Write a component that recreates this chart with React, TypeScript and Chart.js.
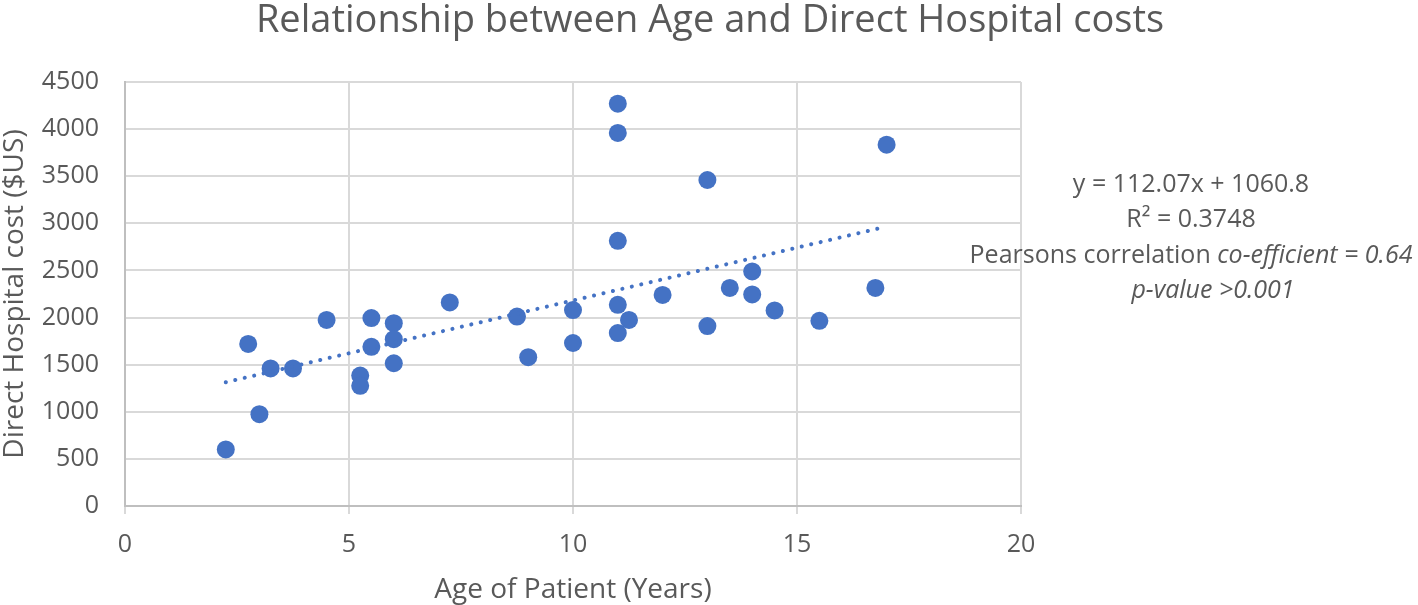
import React, { useEffect, useRef } from "react";
import { Chart, registerables } from "chart.js";

Chart.register(...registerables);

const TITLE = "Relationship between Age and Direct Hospital costs";
const X_TITLE = "Age of Patient (Years)";
const Y_TITLE = "Direct Hospital cost ($US)";

const ages = [
  2.25, 2.75, 3.0, 3.25, 3.75, 4.5, 5.5, 5.5, 5.25, 5.25, 6.0, 6.0, 6.0, 7.25, 8.75, 9.0, 10.0, 10.0,
  11.0, 11.0, 11.0, 11.0, 11.0, 11.25, 12.0, 13.0, 13.0, 13.5, 14.0, 14.0, 14.5, 15.5, 16.75, 17.0,
];
const costs = [
  600, 1720, 975, 1460, 1460, 1975, 1995, 1690, 1385, 1275, 1940, 1770, 1515, 2160, 2010, 1580, 2080, 1730,
  4270, 3960, 2815, 2135, 1835, 1975, 2240, 3460, 1910, 2315, 2490, 2245, 2075, 1965, 2315, 3835,
];

const trendX = [2.25, 17.0];
const trendY = [1313, 2966];

const annotationLines = ["y = 112.07x + 1060.8", "R² = 0.3748"];
const pearsonNormal = "Pearsons correlation ";
const pearsonItalic = "co-efficient = 0.64";
const pValueText = "p-value >0.001";

const FONT = "'Open Sans', sans-serif";
const TEXT = "#595959";

const textPlugin = {
  id: "extraText",
  afterDraw(chart: any) {
    const ctx = chart.ctx;
    ctx.save();
    ctx.fillStyle = TEXT;
    ctx.textBaseline = "middle";
    ctx.textAlign = "center";
    ctx.font = `38px ${FONT}`;
    ctx.fillText(TITLE, 710, 21);

    ctx.textAlign = "left";
    const size = 25;
    const normal = `${size}px ${FONT}`;
    const italic = `italic ${size}px ${FONT}`;
    const cx = 1191;
    const ys = [185, 220, 256, 291];
    ctx.font = normal;
    annotationLines.forEach((t, i) => {
      const w = ctx.measureText(t).width;
      ctx.fillText(t, cx - w / 2, ys[i]);
    });
    const w1 = ctx.measureText(pearsonNormal).width;
    ctx.font = italic;
    const w2 = ctx.measureText(pearsonItalic).width;
    const start = cx - (w1 + w2) / 2;
    ctx.font = normal;
    ctx.fillText(pearsonNormal, start, ys[2]);
    ctx.font = italic;
    ctx.fillText(pearsonItalic, start + w1, ys[2]);
    const w3 = ctx.measureText(pValueText).width;
    ctx.fillText(pValueText, 1213 - w3 / 2, ys[3]);
    ctx.restore();
  },
};

export default function App() {
  const ref = useRef<HTMLCanvasElement | null>(null);
  useEffect(() => {
    if (!ref.current) return;
    const chart = new Chart(ref.current, {
      type: "scatter",
      data: {
        datasets: [
          {
            type: "line",
            label: "Trend",
            data: trendX.map((x, i) => ({ x, y: trendY[i] })),
            borderColor: "#4472C4",
            borderWidth: 4,
            borderDash: [0.1, 9.6],
            borderCapStyle: "round",
            pointRadius: 0,
            fill: false,
            tension: 0,
          },
          {
            label: "Cost",
            data: ages.map((x, i) => ({ x, y: costs[i] })),
            backgroundColor: "#4472C4",
            borderColor: "#4472C4",
            borderWidth: 0,
            pointRadius: 9,
          },
        ],
      } as any,
      options: {
        animation: false,
        responsive: false,
        maintainAspectRatio: false,
        layout: { padding: { left: 0, right: 397, top: 82, bottom: 0 } },
        plugins: {
          legend: { display: false },
          tooltip: { enabled: false },
          title: { display: false },
        },
        scales: {
          x: {
            type: "linear",
            min: 0,
            max: 20,
            ticks: {
              stepSize: 5,
              color: TEXT,
              font: { family: FONT, size: 25 },
              padding: 16,
              callback: (v: any) => String(v),
            },
            grid: { color: "#D9D9D9", lineWidth: 2, tickLength: 8, tickColor: "#D9D9D9" },
            border: { color: "#BFBFBF", width: 2 },
            title: {
              display: true,
              text: X_TITLE,
              color: TEXT,
              font: { family: FONT, size: 28, lineHeight: 1.1 },
              padding: { top: 0, bottom: 0 },
            },
            afterFit: (s: any) => {
              s.height = 99;
            },
          },
          y: {
            type: "linear",
            min: 0,
            max: 4500,
            ticks: {
              stepSize: 500,
              color: TEXT,
              font: { family: FONT, size: 25 },
              padding: 26,
              callback: (v: any) => String(v),
            },
            grid: { color: "#D9D9D9", lineWidth: 2, drawTicks: false },
            border: { color: "#BFBFBF", width: 2 },
            title: {
              display: true,
              text: Y_TITLE,
              color: TEXT,
              font: { family: FONT, size: 28, lineHeight: 1.1 },
              padding: { top: 0, bottom: 0 },
            },
            afterFit: (s: any) => {
              s.width = 125;
            },
          },
        },
      } as any,
      plugins: [textPlugin],
    });
    return () => chart.destroy();
  }, []);
  return (
    <div style={{ position: "fixed", left: 0, top: 0, width: 1418, height: 605, background: "#fff" }}>
      <canvas ref={ref} width={1418} height={605} style={{ display: "block" }} />
    </div>
  );
}
